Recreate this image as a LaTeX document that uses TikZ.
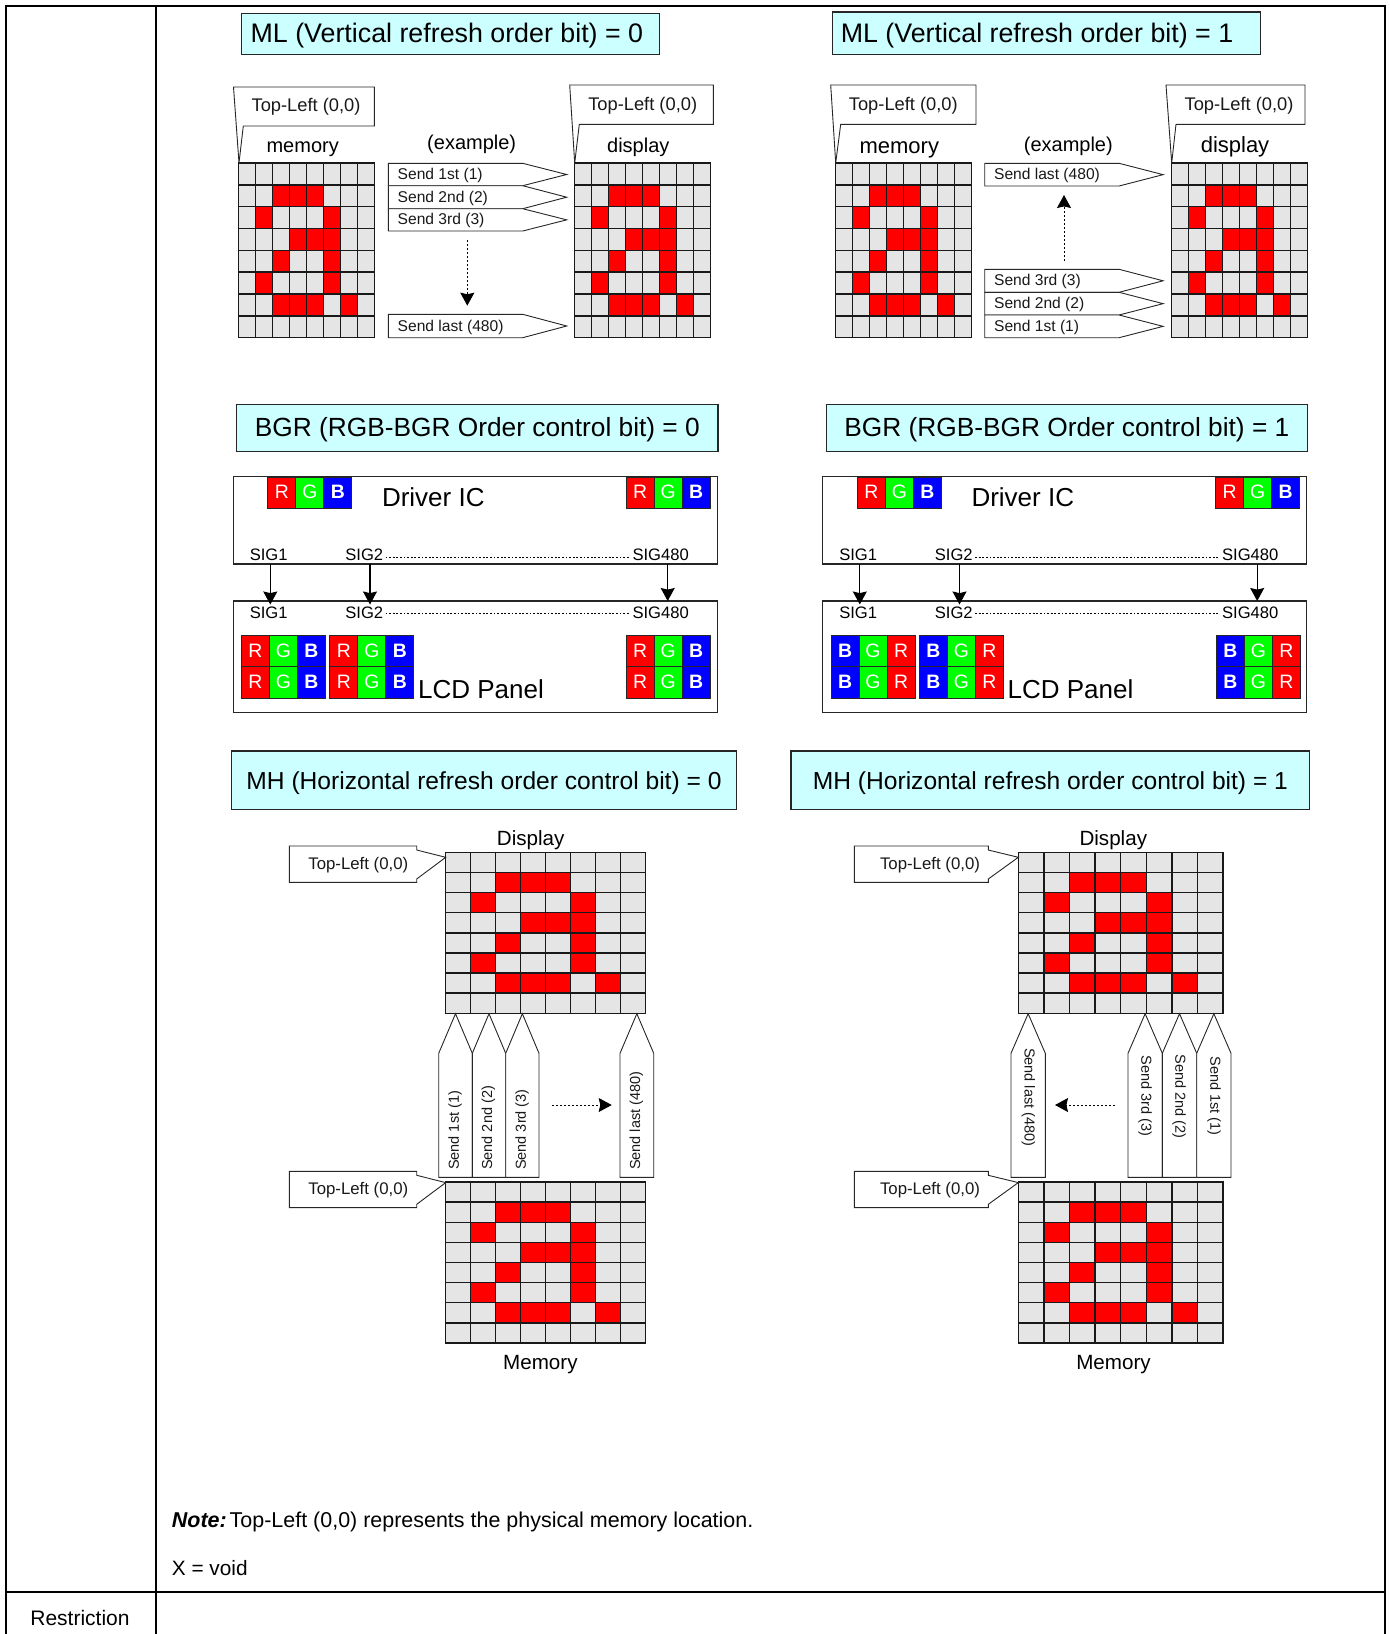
\documentclass[tikz,border=0pt]{standalone}
\usepackage{fontspec}
\setmainfont{Liberation Sans}
\usetikzlibrary{arrows.meta}
\definecolor{paleaqua}{HTML}{CCFFFF}

\begin{document}
\begin{tikzpicture}[
  x=0.5pt,y=-0.5pt,
  frame/.style={draw=black,line width=1pt},
  titlebox/.style={draw=black!85,fill=paleaqua,line width=.6pt,inner sep=0pt,text height=10.6pt,text depth=1.8pt,font=\fontsize{13.4}{16}\selectfont},
  tagline/.style={draw=black!85,fill=white,line width=.45pt},
  tagtxt/.style={inner sep=0pt,text height=5.6pt,text depth=0pt,font=\fontsize{7.8}{9.4}\selectfont,text=black!90},
  vtagtxt/.style={inner sep=0pt,font=\fontsize{7.25}{9}\selectfont,text=black!90},
  toptxt/.style={inner sep=0pt,text height=6.4pt,text depth=0pt,font=\fontsize{9.15}{11}\selectfont,text=black!90},
  sidetxt/.style={inner sep=0pt,text height=6pt,text depth=0pt,font=\fontsize{8.4}{10}\selectfont,text=black!90},
  lbl/.style={inner sep=0pt,text height=7.2pt,text depth=0pt,font=\fontsize{10}{12}\selectfont},
  big/.style={inner sep=0pt,font=\fontsize{13}{15.6}\selectfont},
  sig/.style={inner sep=1pt,font=\fontsize{8.3}{10}\selectfont},
  box/.style={draw=black!85,line width=.6pt,fill=white,inner sep=0pt,minimum width=242pt},
  cell/.style={draw=black!85,line width=.5pt,inner sep=0pt,anchor=north west,minimum width=14pt,minimum height=15.6pt,text height=6pt,text depth=0pt,text=white,font=\fontsize{9.7}{11}\selectfont},
  cellR/.style={cell,fill=red},
  cellG/.style={cell,fill=green},
  cellB/.style={cell,fill=blue,font=\fontsize{9.7}{11}\selectfont\bfseries},
  dots/.style={line width=.4pt,dash pattern=on .9pt off .9pt},
  msg/.style={-{Stealth[length=6.5pt,width=7pt,inset=.8pt]},line width=.55pt,black},
  dmsg/.style={-{Stealth[length=6.5pt,width=7pt,inset=.8pt]},line width=.5pt,dash pattern=on 1pt off 1pt,black},
  pics/lcdgrid/.style n args={2}{code={
    \foreach \i in {0,...,7} \foreach \j in {0,...,7}
      \draw[draw=black!90,line width=.75pt,fill=black!10] (\i*#1,\j*#2) rectangle ++(#1,#2);
    \foreach \i/\j in {2/1,3/1,4/1,1/2,5/2,3/3,4/3,5/3,2/4,5/4,1/5,5/5,2/6,3/6,4/6,6/6}
      \draw[draw=black!90,line width=.75pt,fill=red] (\i*#1,\j*#2) rectangle ++(#1,#2);
  }}
]
  \useasboundingbox (0,0) rectangle (1389,1634);

  % table
  \draw[frame] (6,1634)--(6,6)--(1384.5,6)--(1384.5,1634);
  \draw[frame] (156,6)--(156,1634);
  \draw[frame] (6,1591.7)--(1384.5,1591.7);
  \node[inner sep=0pt,font=\fontsize{10.5}{12.6}\selectfont] (restr) at (80,1618) {Restriction};
  \node[inner sep=0pt,anchor=west,font=\fontsize{10.73}{12.8}\selectfont] (note) at (171.5,1522) {\textbf{\textit{Note:}}\hspace{1.5pt}Top-Left (0,0) represents the physical memory location.};
  \node[inner sep=0pt,anchor=west,font=\fontsize{10.4}{12.4}\selectfont] (xvoid) at (171.5,1568) {X = void};

  % titles
  \node[titlebox,minimum width=208.8pt,minimum height=20.5pt] (mlA) at (450.5,33.8) {\hspace*{-3.6pt}ML (Vertical refresh order bit) = 0};
  \node[titlebox,minimum width=214.2pt,minimum height=21.2pt] (mlB) at (1046.5,33.2) {\hspace*{-9.5pt}ML (Vertical refresh order bit) = 1};
  \node[titlebox,minimum width=240.6pt,minimum height=23.4pt,font=\fontsize{13.15}{16}\selectfont] (bgrA) at (477.3,427.7) {BGR (RGB-BGR Order control bit) = 0};
  \node[titlebox,minimum width=240.6pt,minimum height=23.4pt,font=\fontsize{13.15}{16}\selectfont] (bgrB) at (1066.8,427.7) {BGR (RGB-BGR Order control bit) = 1};
  \node[titlebox,minimum width=252.7pt,minimum height=29.3pt,font=\fontsize{12.3}{16}\selectfont] (mhA) at (484,780.3) {MH (Horizontal refresh order control bit) = 0};
  \node[titlebox,minimum width=259.4pt,minimum height=29.3pt,font=\fontsize{12.3}{16}\selectfont] (mhB) at (1050.4,780.3) {MH (Horizontal refresh order control bit) = 1};

  % ML grids
  \pic (gmemA) at (238.5,163) {lcdgrid={17}{21.84}};
  \pic (gdisA) at (574.3,163) {lcdgrid={17}{21.84}};
  \pic (gmemB) at (835.3,163) {lcdgrid={17}{21.84}};
  \pic (gdisB) at (1171.3,163) {lcdgrid={17}{21.84}};

  % Top-Left callouts over the grids
  \draw[tagline] (233.5,87)--(374.3,87)--(374.3,126)--(243.3,126)--(239,163)--cycle;
  \draw[tagline] (569.7,85)--(713.3,85)--(713.3,124.3)--(579.3,124.3)--(574.7,163)--cycle;
  \draw[tagline] (830.7,85)--(976,85)--(976,124.3)--(840.7,124.3)--(835.7,163)--cycle;
  \draw[tagline] (1166,85)--(1305,85)--(1305,124.3)--(1176,124.3)--(1171.7,163)--cycle;
  \node[toptxt] (tlA) at (306,105.3) {Top-Left (0,0)};
  \node[toptxt] (tlB) at (642.7,103.7) {Top-Left (0,0)};
  \node[toptxt] (tlC) at (903.3,104) {Top-Left (0,0)};
  \node[toptxt] (tlD) at (1239,104) {Top-Left (0,0)};
  \node[lbl] (memA) at (302.7,145.5) {memory};
  \node[lbl] (disA) at (638.3,145.5) {display};
  \node[lbl,font=\fontsize{11}{13}\selectfont] (memB) at (899.3,146) {memory};
  \node[lbl,font=\fontsize{11}{13}\selectfont] (disB) at (1235,145.5) {display};
  \node[lbl] (exA) at (471.7,142.7) {(example)};
  \node[lbl] (exB) at (1068.3,144.3) {(example)};

  % send tags, ML
  \foreach \nm/\tx/\ta/\tb/\txt in {sa/388.3/163.3/185.7/{Send 1st (1)},sb/388.3/185.7/208.7/{Send 2nd (2)},sc/388.3/208.7/231/{Send 3rd (3)},sd/388.3/314.3/337.7/{Send last (480)},
    se/984.7/163.3/186/{Send last (480)},sf/984.7/269.3/292.3/{Send 3rd (3)},sg/984.7/292.3/315/{Send 2nd (2)},sh/984.7/315/337.7/{Send 1st (1)}} {
    \draw[tagline] (\tx,\ta)--(\tx+134.4,\ta)--(\tx+178.4,{(\ta+\tb)/2})--(\tx+134.4,\tb)--(\tx,\tb)--cycle;
    \node[tagtxt,anchor=west] (\nm) at (\tx+9,{(\ta+\tb)/2-.5}) {\txt};
  }
  \coordinate (arrAs) at (467.3,240);
  \coordinate (arrAe) at (467.3,305.7);
  \coordinate (arrBs) at (1064,260.7);
  \coordinate (arrBe) at (1064,195);
  \draw[dmsg] (arrAs)--(arrAe);
  \draw[dmsg] (arrBs)--(arrBe);

  % BGR part, left and right
  \foreach \ox/\nm/\fa/\fb/\xc in {0/A/R/B/625.7,589.5/B/B/R/626.4} {
    \node[box,minimum height=43.7pt] (ic\nm) at (475.3+\ox,520.3) {};
    \node[box,minimum height=55.9pt] (lcd\nm) at (475.3+\ox,656.8) {};
    \node[big] (ict\nm) at (433.3+\ox,496.7) {Driver IC};
    \node[big] (lct\nm) at (481+\ox,689.3) {LCD Panel};
    % strips in the driver
    \foreach \sx/\k in {267.3/a,625.7/b} {
      \node[cellR] (dr\nm\k) at (\sx+\ox,476.7) {R};
      \node[cellG] (dg\nm\k) at (\sx+\ox+28,476.7) {G};
      \node[cellB] (db\nm\k) at (\sx+\ox+56,476.7) {B};
    }
    % strips in the panel
    \foreach \sx/\k in {241/a,329.3/b,\xc/c} \foreach \sy/\r in {635/u,666.3/v} {
      \node[cell\fa] (pa\nm\k\r) at (\sx+\ox,\sy) {\fa};
      \node[cellG] (pg\nm\k\r) at (\sx+\ox+28,\sy) {G};
      \node[cell\fb] (pc\nm\k\r) at (\sx+\ox+56,\sy) {\fb};
    }
    \node[sig] (dsa\nm) at (268.7+\ox,554.7) {SIG1};
    \node[sig] (dsb\nm) at (364.3+\ox,554.7) {SIG2};
    \node[sig] (dsc\nm) at (660.7+\ox,554.7) {SIG480};
    \node[sig] (psa\nm) at (268.7+\ox,612.7) {SIG1};
    \node[sig] (psb\nm) at (364.3+\ox,612.7) {SIG2};
    \node[sig] (psc\nm) at (660.7+\ox,612.7) {SIG480};
    \draw[dots] ([yshift=-1.5pt]dsb\nm.east)--([yshift=-1.5pt]dsc\nm.west);
    \draw[dots] ([yshift=-.3pt]psb\nm.east)--([yshift=-.3pt]psc\nm.west);
    \foreach \ax/\k/\ay in {270.3/a/604.5,370/b/604.5,667.7/c/601} {
      \coordinate (from\nm\k) at (\ax+\ox,564);
      \coordinate (to\nm\k) at (\ax+\ox,\ay);
      \draw[msg] (from\nm\k)--(to\nm\k);
    }
  }

  % MH grids
  \pic (gtopA) at (445.7,852.3) {lcdgrid={25}{20.12}};
  \pic (gbotA) at (445.7,1182) {lcdgrid={25}{20.12}};
  \pic (gtopB) at (1018.3,852.3) {lcdgrid={25.6}{20.12}};
  \pic (gbotB) at (1018.3,1182) {lcdgrid={25.6}{20.12}};
  \node[lbl,font=\fontsize{10.3}{12}\selectfont] (dispA) at (530.7,838) {Display};
  \node[lbl,font=\fontsize{10.3}{12}\selectfont] (dispB) at (1113.3,838) {Display};
  \node[lbl,font=\fontsize{10.3}{12}\selectfont] (memoA) at (540.4,1362.5) {Memory};
  \node[lbl,font=\fontsize{10.3}{12}\selectfont] (memoB) at (1113.5,1362.5) {Memory};

  % Top-Left callouts beside the grids
  \foreach \bx/\ex/\by/\tip/\tlx/\nm in {289.3/416.7/846/445.7/358.3/ca,289.3/416.7/1171.3/445.7/358.3/cb,854.3/988.3/846/1018.3/930/cc,854.3/988.3/1171.3/1018.3/930/cd} {
    \draw[tagline] (\bx,\by)--(\ex,\by)--(\ex,\by+4)--(\tip,\by+11.3)--(\ex,\by+33)--(\ex,\by+36.3)--(\bx,\by+36.3)--cycle;
    \node[sidetxt] (\nm) at (\tlx,\by+17.5) {Top-Left (0,0)};
  }

  % send tags, MH
  \foreach \nm/\ll/\rr/\ang/\tx/\ty/\txt in {ta/438.7/472.3/90/455/1170.3/{Send 1st (1)},tb/472.3/505.7/90/488.3/1170.3/{Send 2nd (2)},tc/505.7/539/90/522/1170.3/{Send 3rd (3)},td/620/653.7/90/636.3/1170.3/{Send last (480)},
    te/1011/1045.3/-90/1028.3/1047.7/{Send last (480)},tf/1128/1162.3/-90/1145/1055.3/{Send 3rd (3)},tg/1162.3/1196.7/-90/1179/1054.3/{Send 2nd (2)},th/1196.7/1231/-90/1214/1056/{Send 1st (1)}} {
    \draw[tagline] (\ll,1177.3)--(\ll,1053.3)--({(\ll+\rr)/2},1013.7)--(\rr,1053.3)--(\rr,1177.3)--cycle;
    \node[vtagtxt,rotate=\ang,anchor=west] (\nm) at (\tx,\ty) {\txt};
  }
  \coordinate (arrCs) at (552.3,1105);
  \coordinate (arrCe) at (611.7,1105);
  \coordinate (arrDs) at (1115,1105);
  \coordinate (arrDe) at (1055,1105);
  \draw[dmsg] (arrCs)--(arrCe);
  \draw[dmsg] (arrDs)--(arrDe);
\end{tikzpicture}
\end{document}
